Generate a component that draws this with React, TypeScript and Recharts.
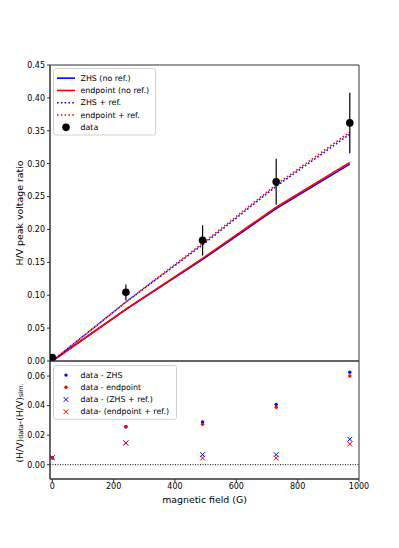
import React from 'react';
import {
  ComposedChart, Line, Scatter, XAxis, YAxis, ErrorBar, ReferenceLine, ReferenceArea, Legend,
} from 'recharts';

// ---- data ----
const FIELD = [0, 240, 490, 730, 970];
const DATA = [0.0052, 0.1044, 0.1834, 0.2725, 0.362];
const DATA_ERR = [0.003, 0.012, 0.023, 0.035, 0.046];
const ZHS_NOREF = [0, 0.0785, 0.1545, 0.2317, 0.2994];
const END_NOREF = [0, 0.0787, 0.156, 0.2337, 0.302];
const ZHS_REF = [0, 0.0897, 0.1766, 0.2657, 0.3448];
const END_REF = [0, 0.0897, 0.1789, 0.268, 0.348];

const RES_ZHS = [0.0047, 0.0257, 0.0289, 0.0408, 0.0626];
const RES_END = [0.0047, 0.0257, 0.0273, 0.0388, 0.060];
const RES_ZHS_REF = [0.0047, 0.0147, 0.0068, 0.0068, 0.0172];
const RES_END_REF = [0.0047, 0.0147, 0.0045, 0.0045, 0.014];

const X_DOMAIN: [number, number] = [-7.5, 1000];
const X_TICKS = [0, 200, 400, 600, 800, 1000];
const TOP_DOMAIN: [number, number] = [0, 0.45];
const TOP_TICKS = [0, 0.05, 0.1, 0.15, 0.2, 0.25, 0.3, 0.35, 0.4, 0.45];
const BOT_DOMAIN: [number, number] = [-0.0097, 0.0702];
const BOT_TICKS = [0, 0.02, 0.04, 0.06];

const TOP_LEGEND = [
  { label: 'ZHS (no ref.)', color: '#0000ff', kind: 'solid' },
  { label: 'endpoint (no ref.)', color: '#ff0000', kind: 'solid' },
  { label: 'ZHS + ref.', color: '#0000ff', kind: 'dotted' },
  { label: 'endpoint + ref.', color: '#ff0000', kind: 'dotted' },
  { label: 'data', color: '#000000', kind: 'circle' },
];
const BOT_LEGEND = [
  { label: 'data - ZHS', color: '#0000ff', kind: 'dot' },
  { label: 'data - endpoint', color: '#ff0000', kind: 'dot' },
  { label: 'data - (ZHS + ref.)', color: '#0000ff', kind: 'x' },
  { label: 'data- (endpoint + ref.)', color: '#ff0000', kind: 'x' },
];

const mainRows = FIELD.map((x, i) => ({
  x, zhs: ZHS_NOREF[i], end: END_NOREF[i], zhsRef: ZHS_REF[i], endRef: END_REF[i],
}));
const dataRows = FIELD.map((x, i) => ({ x, y: DATA[i], err: DATA_ERR[i] }));
const resRows = (arr: number[]) => FIELD.map((x, i) => ({ x, y: arr[i] }));

const FONT = "'DejaVu Sans', sans-serif";
const AX = '#333';
const TICK_STYLE = { fontSize: 8, fill: '#000', fontFamily: FONT };
const W = 399;
const H = 548;

const Circle = (p: any) => <circle cx={p.cx} cy={p.cy} r={3.8} fill="#000" />;
const makeDot = (color: string) => (p: any) => <circle cx={p.cx} cy={p.cy} r={1.7} fill={color} />;
const makeX = (color: string) => (p: any) => {
  const s = 2.4;
  return (
    <g stroke={color} strokeWidth={1}>
      <line x1={p.cx - s} y1={p.cy - s} x2={p.cx + s} y2={p.cy + s} />
      <line x1={p.cx - s} y1={p.cy + s} x2={p.cx + s} y2={p.cy - s} />
    </g>
  );
};

const LegendBox = ({ items, width, rowH }: { items: any[]; width: number; rowH: number }) => {
  const h = items.length * rowH + 6;
  return (
    <svg width={width} height={h} style={{ display: 'block' }}>
      <rect x={0.5} y={0.5} width={width - 1} height={h - 1} rx={2} fill="#fff" fillOpacity={0.8} stroke="#d0d0d0" />
      {items.map((it, i) => {
        const cy = 4 + rowH * i + rowH / 2;
        let mark: any = null;
        if (it.kind === 'solid') mark = <line x1={4} x2={22} y1={cy} y2={cy} stroke={it.color} strokeWidth={1.6} />;
        else if (it.kind === 'dotted') mark = <line x1={4} x2={22} y1={cy} y2={cy} stroke={it.color} strokeWidth={1.6} strokeDasharray="1.6 2.2" />;
        else if (it.kind === 'circle') mark = <circle cx={13} cy={cy} r={3.8} fill={it.color} />;
        else if (it.kind === 'dot') mark = <circle cx={13} cy={cy} r={1.7} fill={it.color} />;
        else mark = (
          <g stroke={it.color} strokeWidth={1}>
            <line x1={10.6} y1={cy - 2.4} x2={15.4} y2={cy + 2.4} />
            <line x1={10.6} y1={cy + 2.4} x2={15.4} y2={cy - 2.4} />
          </g>
        );
        return (
          <g key={i}>
            {mark}
            <text x={27.5} y={cy} dominantBaseline="central" fontSize={7.9} fontFamily={FONT} fill="#000">{it.label}</text>
          </g>
        );
      })}
    </svg>
  );
};

export default function App() {
  return (
    <div style={{ position: 'absolute', left: 0, top: 0, width: W, height: H, background: '#fff' }}>
      <div style={{ position: 'absolute', left: 0, top: 0 }}>
        <ComposedChart width={W} height={370} data={mainRows} margin={{ top: 65, right: 40, bottom: 9, left: 0 }}>
          <XAxis dataKey="x" type="number" domain={X_DOMAIN} allowDataOverflow hide />
          <YAxis
            type="number" domain={TOP_DOMAIN} ticks={TOP_TICKS} width={50} allowDataOverflow
            stroke={AX} tickSize={3} tickMargin={2} tick={TICK_STYLE}
            tickFormatter={(v: number) => v.toFixed(2)}
            label={{
              content: (p: any) => {
                const vb = p.viewBox;
                const cx = vb.x + 19.5;
                const cy = vb.y + vb.height / 2;
                return (
                  <text x={cx} y={cy} transform={`rotate(-90, ${cx}, ${cy})`} textAnchor="middle" dominantBaseline="central"
                    fontSize={9.4} fontFamily={FONT} fill="#000">H/V peak voltage ratio</text>
                );
              },
            }}
          />
          <ReferenceArea x1={X_DOMAIN[0]} x2={X_DOMAIN[1]} y1={TOP_DOMAIN[0]} y2={TOP_DOMAIN[1]} fill="none" stroke={AX} strokeWidth={1} fillOpacity={0} />
          <Line dataKey="zhs" type="linear" stroke="#0000ff" strokeWidth={1.6} dot={false} isAnimationActive={false} />
          <Line dataKey="end" type="linear" stroke="#ff0000" strokeWidth={1.6} dot={false} isAnimationActive={false} />
          <Line dataKey="zhsRef" type="linear" stroke="#0000ff" strokeWidth={1.6} strokeDasharray="1.6 2.2" dot={false} isAnimationActive={false} />
          <Line dataKey="endRef" type="linear" stroke="#ff0000" strokeWidth={1.6} strokeDasharray="1.6 2.2" strokeDashoffset={1.9} dot={false} isAnimationActive={false} />
          <Scatter data={dataRows} dataKey="y" fill="#000" shape={Circle} isAnimationActive={false}>
            <ErrorBar dataKey="err" direction="y" width={0} stroke="#000" strokeWidth={1.2} />
          </Scatter>
          <Legend
            layout="vertical" align="center" verticalAlign="middle"
            wrapperStyle={{ position: 'absolute', left: 53, top: 68, width: 'auto' }}
            content={() => <LegendBox items={TOP_LEGEND} width={103} rowH={12.3} />}
          />
        </ComposedChart>
      </div>
      <div style={{ position: 'absolute', left: 0, top: 0 }}>
        <ComposedChart width={W} height={H} margin={{ top: 361, right: 40, bottom: 49, left: 0 }}>
          <XAxis
            dataKey="x" type="number" domain={X_DOMAIN} ticks={X_TICKS} allowDataOverflow height={20}
            stroke={AX} tickSize={3} tickMargin={1} tick={TICK_STYLE}
            label={{
              content: (p: any) => {
                const vb = p.viewBox;
                return (
                  <text x={vb.x + vb.width / 2} y={vb.y + 20} textAnchor="middle" dominantBaseline="central"
                    fontSize={9.4} fontFamily={FONT} fill="#000">magnetic field (G)</text>
                );
              },
            }}
          />
          <YAxis
            type="number" domain={BOT_DOMAIN} ticks={BOT_TICKS} width={50} allowDataOverflow
            stroke={AX} tickSize={3} tickMargin={2} tick={TICK_STYLE}
            tickFormatter={(v: number) => v.toFixed(2)}
            label={{
              content: (p: any) => {
                const vb = p.viewBox;
                const cx = vb.x + 18.5;
                const cy = vb.y + vb.height / 2 + 3;
                return (
                  <text x={cx} y={cy} transform={`rotate(-90, ${cx}, ${cy})`} textAnchor="middle" dominantBaseline="central"
                    fontSize={9.3} fontFamily={FONT} fill="#000">
                    <tspan>(H/V)</tspan>
                    <tspan fontSize={6.5} dy={2.2}>data</tspan>
                    <tspan dy={-2.2}>-(H/V)</tspan>
                    <tspan fontSize={6.5} dy={2.2}>sim.</tspan>
                  </text>
                );
              },
            }}
          />
          <ReferenceArea x1={X_DOMAIN[0]} x2={X_DOMAIN[1]} y1={BOT_DOMAIN[0]} y2={BOT_DOMAIN[1]} fill="none" stroke={AX} strokeWidth={1} fillOpacity={0} />
          <ReferenceLine y={0} stroke="#000" strokeWidth={1} strokeDasharray="1 1.5" />
          <Scatter data={resRows(RES_ZHS)} dataKey="y" fill="#0000ff" shape={makeDot('#0000ff')} isAnimationActive={false} />
          <Scatter data={resRows(RES_END)} dataKey="y" fill="#ff0000" shape={makeDot('#ff0000')} isAnimationActive={false} />
          <Scatter data={resRows(RES_ZHS_REF)} dataKey="y" fill="#0000ff" shape={makeX('#0000ff')} isAnimationActive={false} />
          <Scatter data={resRows(RES_END_REF)} dataKey="y" fill="#ff0000" shape={makeX('#ff0000')} isAnimationActive={false} />
          <Legend
            layout="vertical" align="center" verticalAlign="middle"
            wrapperStyle={{ position: 'absolute', left: 53, top: 365, width: 'auto' }}
            content={() => <LegendBox items={BOT_LEGEND} width={124} rowH={12.2} />}
          />
        </ComposedChart>
      </div>
    </div>
  );
}
